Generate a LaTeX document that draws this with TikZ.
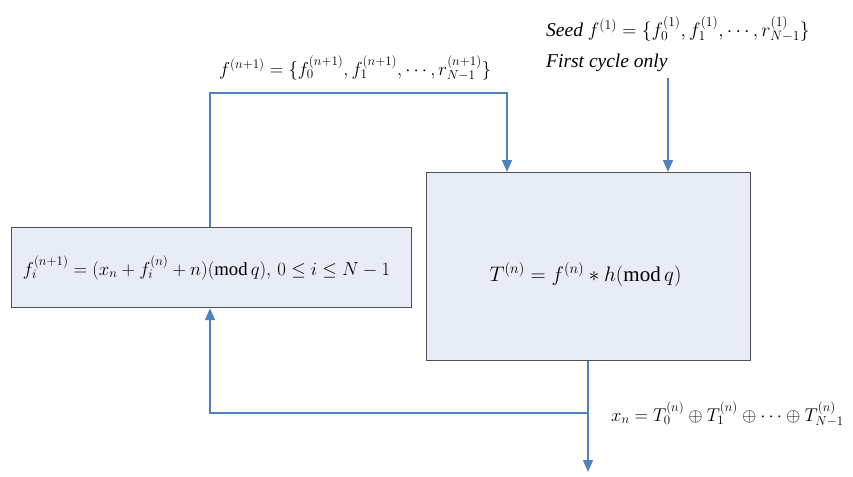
\RequirePackage{fix-cm}
\documentclass[tikz,border=0pt]{standalone}
\usepackage{fontspec}
\setmainfont{Liberation Serif}
\usetikzlibrary{arrows.meta}
\definecolor{linec}{RGB}{79,129,189}
\definecolor{boxfill}{RGB}{231,236,246}
\definecolor{boxdraw}{RGB}{80,80,80}
\tikzset{
  procbox/.style={draw=boxdraw, fill=boxfill, line width=1.2pt, inner sep=0pt},
  flow/.style={draw=linec, line width=1.6pt},
  flowarr/.style={flow, -{Triangle[width=10pt,length=12pt]}},
  lbl/.style={inner sep=0pt, font=\fontsize{18.7}{22}\selectfont}
}
\begin{document}
\begin{tikzpicture}[x=1pt,y=-1pt]
\useasboundingbox (0,0) rectangle (853,476);
\node[procbox, minimum width=400pt, minimum height=80pt, anchor=north west] (L) at (11,227) {};
\node[lbl] at ([xshift=-5pt]L.center) {$f_i^{(n+1)}=(x_n+f_i^{(n)}+n)(\mathrm{mod}\,q),\,0\le i\le N-1$};
\node[procbox, minimum width=324pt, minimum height=188pt, anchor=north west] (R) at (426,172) {};
\node[lbl, font=\fontsize{21}{25}\selectfont] at ([xshift=-3pt,yshift=-8pt]R.center) {$T^{(n)}=f^{(n)}*h(\mathrm{mod}\,q)$};

\coordinate (fbL) at (210,93);
\coordinate (fbR) at (507,93);
\coordinate (seedtop) at (668,78);
\coordinate (out) at (588,472);
\coordinate (br) at (588,413);
\coordinate (brL) at (210,413);

\draw[flowarr] (L.north -| fbL) -- (fbL) -- (fbR) -- (R.north -| fbR);
\draw[flowarr] (seedtop) -- (R.north -| seedtop);
\draw[flowarr] (R.south -| out) -- (out);
\draw[flowarr] (br) -- (brL) -- (L.south -| brL);

\node[lbl, anchor=west] (lab1) at (219,68) {$f^{(n+1)}=\{f_0^{(n+1)},f_1^{(n+1)},\cdots,r_{N-1}^{(n+1)}\}$};
\node[lbl, anchor=west, font=\fontsize{19.5}{23}\selectfont] (seed) at (546,29) {\textit{Seed} $f^{(1)}=\{f_0^{(1)},f_1^{(1)},\cdots,r_{N-1}^{(1)}\}$};
\node[lbl, anchor=west, font=\fontsize{19.5}{23}\selectfont] (first) at (546,63) {\textit{First cycle only}};
\node[lbl, anchor=west, font=\fontsize{18.5}{22}\selectfont] (xn) at (611,414) {$x_n=T_0^{(n)}\oplus T_1^{(n)}\oplus\cdots\oplus T_{N-1}^{(n)}$};
\end{tikzpicture}
\end{document}
